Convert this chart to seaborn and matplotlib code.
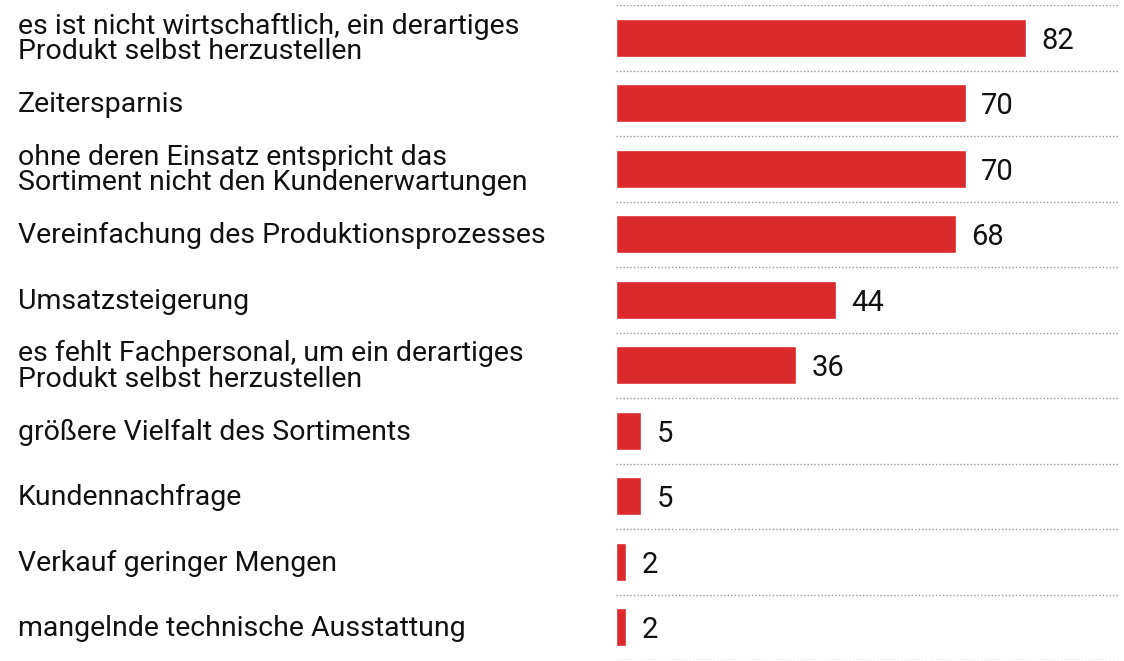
import matplotlib
matplotlib.use("Agg")
import matplotlib.pyplot as plt
import matplotlib.transforms as mtransforms
import seaborn as sns
import pandas as pd

# --- data ---
labels = [
    "es ist nicht wirtschaftlich, ein derartiges\nProdukt selbst herzustellen",
    "Zeitersparnis",
    "ohne deren Einsatz entspricht das\nSortiment nicht den Kundenerwartungen",
    "Vereinfachung des Produktionsprozesses",
    "Umsatzsteigerung",
    "es fehlt Fachpersonal, um ein derartiges\nProdukt selbst herzustellen",
    "größere Vielfalt des Sortiments",
    "Kundennachfrage",
    "Verkauf geringer Mengen",
    "mangelnde technische Ausstattung",
]
values = [82, 70, 70, 68, 44, 36, 5, 5, 2, 2]

df = pd.DataFrame({"Grund": labels, "Anteil": values})

sns.set_style("white")
plt.rcParams["font.family"] = ["Roboto", "DejaVu Sans"]

fig = plt.figure(figsize=(11.24, 6.61), dpi=100)
ax = fig.add_axes([616 / 1124, 1 - 660 / 661, (1118 - 616) / 1124, 655 / 661])

sns.barplot(data=df, x="Anteil", y="Grund", color="#dc292b", width=0.58,
            saturation=1, ax=ax, orient="h")

ax.set_xlim(0, 100.4)
ax.set_ylim(len(labels) - 0.5, -0.5)

# dotted separators between rows
for b in range(len(labels) + 1):
    ax.axhline(b - 0.5, color="#9a9a9a", lw=1, ls=(0, (1, 1.5)), zorder=0)

# value labels right of each bar
for i, v in enumerate(values):
    ax.annotate(str(v), (v, i), xytext=(11, 0), textcoords="offset points",
                ha="left", va="center_baseline", fontsize=21, color="#111111")

# category labels left aligned near the figure edge
ax.set_yticks(range(len(labels)))
ax.set_yticklabels([])
trans = mtransforms.blended_transform_factory(fig.transFigure, ax.transData)
for i, lab in enumerate(labels):
    ax.text(18 / 1124, i + 0.02, lab, transform=trans, ha="left", va="center",
            fontsize=20.5, linespacing=0.92, color="#111111")

ax.set_xlabel("")
ax.set_ylabel("")
ax.set_xticks([])
ax.tick_params(left=False, bottom=False)
sns.despine(ax=ax, left=True, bottom=True)

fig.savefig("out.png", dpi=100)
